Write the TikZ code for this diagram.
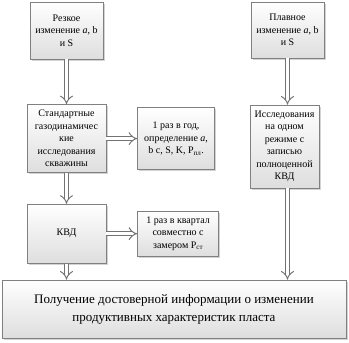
\documentclass[tikz,border=0pt]{standalone}
\usepackage{fontspec}
\setmainfont{Liberation Serif}
\usetikzlibrary{arrows.meta, positioning, shadows}
\definecolor{boxline}{RGB}{128,128,128}
\definecolor{boxshade}{RGB}{222,222,222}

\begin{document}
\begin{tikzpicture}[
  x=1pt, y=-1pt,
  box/.style={draw=boxline, line width=0.6pt, align=center, inner sep=2pt,
    top color=white, bottom color=boxshade,
    drop shadow={opacity=0.35, shadow xshift=1.5pt, shadow yshift=-1.5pt},
    font=\fontsize{10}{12.5}\selectfont},
  bigbox/.style={box, font=\fontsize{13}{18}\selectfont},
  flow/.style={draw=black!55, line width=1pt, double=white, double distance=3.5pt,
    -{Implies[scale=1.5]}},
]
\useasboundingbox (0,0) rectangle (349,343);

% Left column
\node[box, minimum width=73pt, minimum height=57pt] (sharp) at (66.5,30.5)
  {Резкое\\изменение \textit{a}, b\\и S};
\node[box, minimum width=79pt, minimum height=68pt, below=45pt of sharp] (std)
  {Стандартные\\газодинамичес\\кие\\исследования\\скважины};
\node[box, minimum width=79pt, minimum height=59pt, below=31pt of std] (kvd) {КВД};

% Notes
\node[box, minimum width=77pt, minimum height=62pt, right=31pt of std] (year)
  {1 раз в год,\\определение \textit{a},\\b c, S, K, P\textsubscript{пл}.};
\node[box, minimum width=81pt, minimum height=45pt, right=31pt of kvd] (quarter)
  {1 раз в квартал\\совместно с\\замером P\textsubscript{ст}};

% Right column
\node[box, minimum width=73pt, minimum height=56pt] (smooth) at (287.5,30)
  {Плавное\\изменение \textit{a}, b\\и S};
\node[box, minimum width=69pt, minimum height=83pt] (single) at (284.5,146.5)
  {Исследования\\на одном\\режиме с\\записью\\полноценной\\КВД};

% Result
\node[bigbox, minimum width=344pt, minimum height=58pt] (result) at (174,309)
  {Получение достоверной информации о изменении\\продуктивных характеристик пласта};

% Arrows
\draw[flow] (sharp) -- (std);
\draw[flow] (std) -- (std.east -| year.west);
\draw[flow] (std) -- (kvd);
\draw[flow] (kvd) -- (kvd.east -| quarter.west);
\draw[flow] (kvd) -- (kvd.south |- result.north);
\draw[flow] (smooth) -- (smooth.south |- single.north);
\draw[flow] (single.south -| smooth.south) -- (smooth.south |- result.north);
\end{tikzpicture}
\end{document}
